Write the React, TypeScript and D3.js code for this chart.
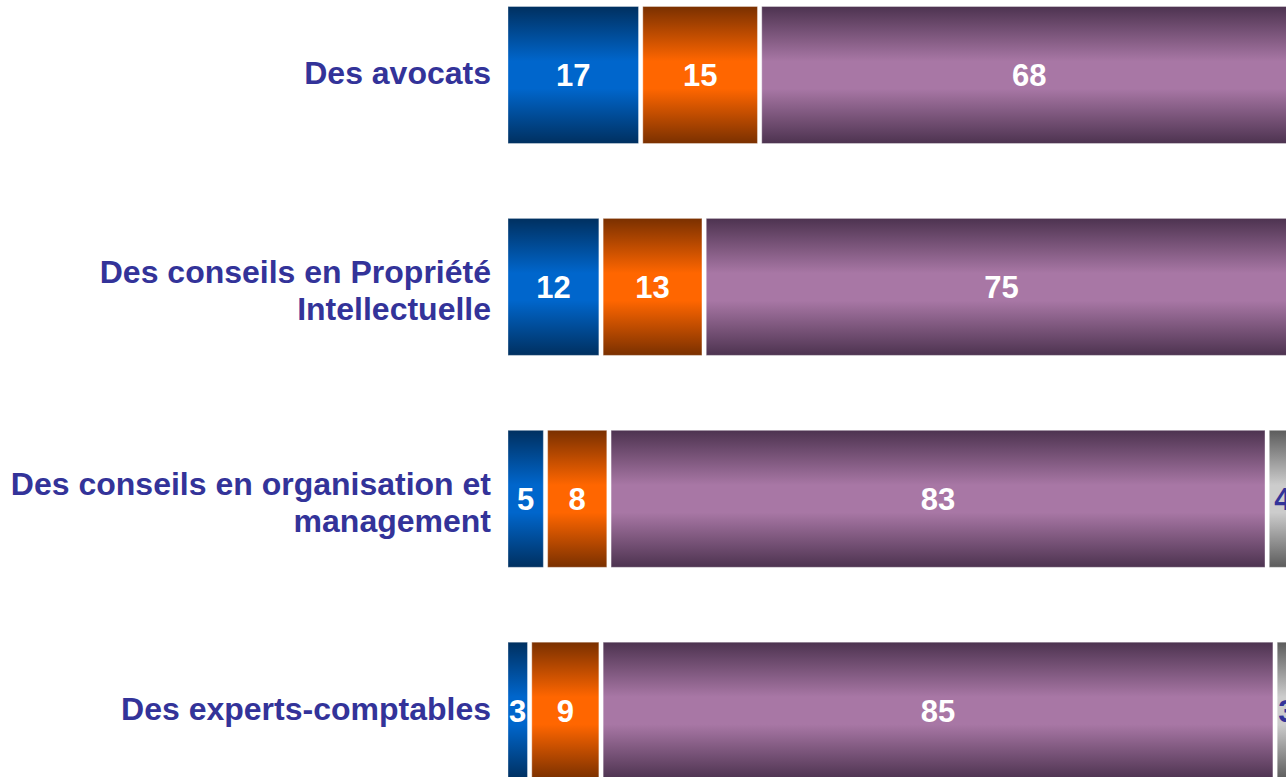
import React from "react";
import * as d3 from "d3";

const categories = [
  "Des avocats",
  "Des conseils en Propriété Intellectuelle",
  "Des conseils en organisation et management",
  "Des experts-comptables",
];
const categoryLines = [
  ["Des avocats"],
  ["Des conseils en Propriété", "Intellectuelle"],
  ["Des conseils en organisation et", "management"],
  ["Des experts-comptables"],
];
const seriesNames = ["s1", "s2", "s3", "s4"];
const seriesBlue = [17, 12, 5, 3];
const seriesOrange = [15, 13, 8, 9];
const seriesPurple = [68, 75, 83, 85];
const seriesGrey = [0, 0, 4, 3];

const W = 1286;
const H = 777;

const palette = [
  { dark: "#003060", light: "#0066cc", text: "#ffffff" },
  { dark: "#7a3000", light: "#ff6600", text: "#ffffff" },
  { dark: "#4d3350", light: "#a877a5", text: "#ffffff" },
  { dark: "#5c5c5c", light: "#cccccc", text: "#333399" },
];

export default function App() {
  const seriesValues = [seriesBlue, seriesOrange, seriesPurple, seriesGrey];
  const x = d3.scaleLinear().domain([0, 100]).range([508, 1301]);
  const step = 211.9;
  const pIn = 0.3535;
  const y = d3
    .scaleBand<string>()
    .domain(categories)
    .range([6.5, 6.5 + step * (categories.length - pIn)])
    .paddingInner(pIn)
    .paddingOuter(0);
  const gap = 4.3;
  const bw = y.bandwidth();
  const font = "'Liberation Sans', Arial, Helvetica, sans-serif";

  return (
    <svg
      width={W}
      height={H}
      style={{ position: "absolute", left: 0, top: 0, display: "block", background: "#ffffff" }}
    >
      <defs>
        {palette.map((p, i) => (
          <linearGradient key={i} id={`grad-${seriesNames[i]}`} x1="0" y1="0" x2="0" y2="1">
            <stop offset="0" stopColor={p.dark} />
            <stop offset="0.4" stopColor={p.light} />
            <stop offset="0.6" stopColor={p.light} />
            <stop offset="1" stopColor={p.dark} />
          </linearGradient>
        ))}
      </defs>
      <rect x={0} y={0} width={W} height={H} fill="#ffffff" />
      {categories.map((cat, ci) => {
        const y0 = y(cat)!;
        const cy = y0 + bw / 2;
        let cum = 0;
        const lines = categoryLines[ci];
        const lineH = 37.2;
        const firstBase = lines.length === 1 ? cy + 9 : cy - 4;
        return (
          <g key={cat}>
            {seriesValues.map((vals, si) => {
              const v = vals[ci];
              const start = cum;
              cum += v;
              if (v <= 0) return null;
              const x0 = x(start);
              const x1 = x(start + v) - gap;
              return (
                <g key={si}>
                  <rect
                    x={x0}
                    y={y0}
                    width={Math.max(0, x1 - x0)}
                    height={bw}
                    fill={`url(#grad-${seriesNames[si]})`}
                    stroke="rgba(255,255,255,0.35)"
                    strokeWidth={1}
                  />
                  <text
                    x={(x0 + x1) / 2}
                    y={cy + 11}
                    textAnchor="middle"
                    fill={palette[si].text}
                    fontFamily={font}
                    fontWeight="bold"
                    fontSize={31}
                  >
                    {v}
                  </text>
                </g>
              );
            })}
            <text
              textAnchor="end"
              fill="#333399"
              fontFamily={font}
              fontWeight="bold"
              fontSize={32}
            >
              {lines.map((ln, li) => (
                <tspan key={li} x={491} y={firstBase + li * lineH}>
                  {ln}
                </tspan>
              ))}
            </text>
          </g>
        );
      })}
    </svg>
  );
}
